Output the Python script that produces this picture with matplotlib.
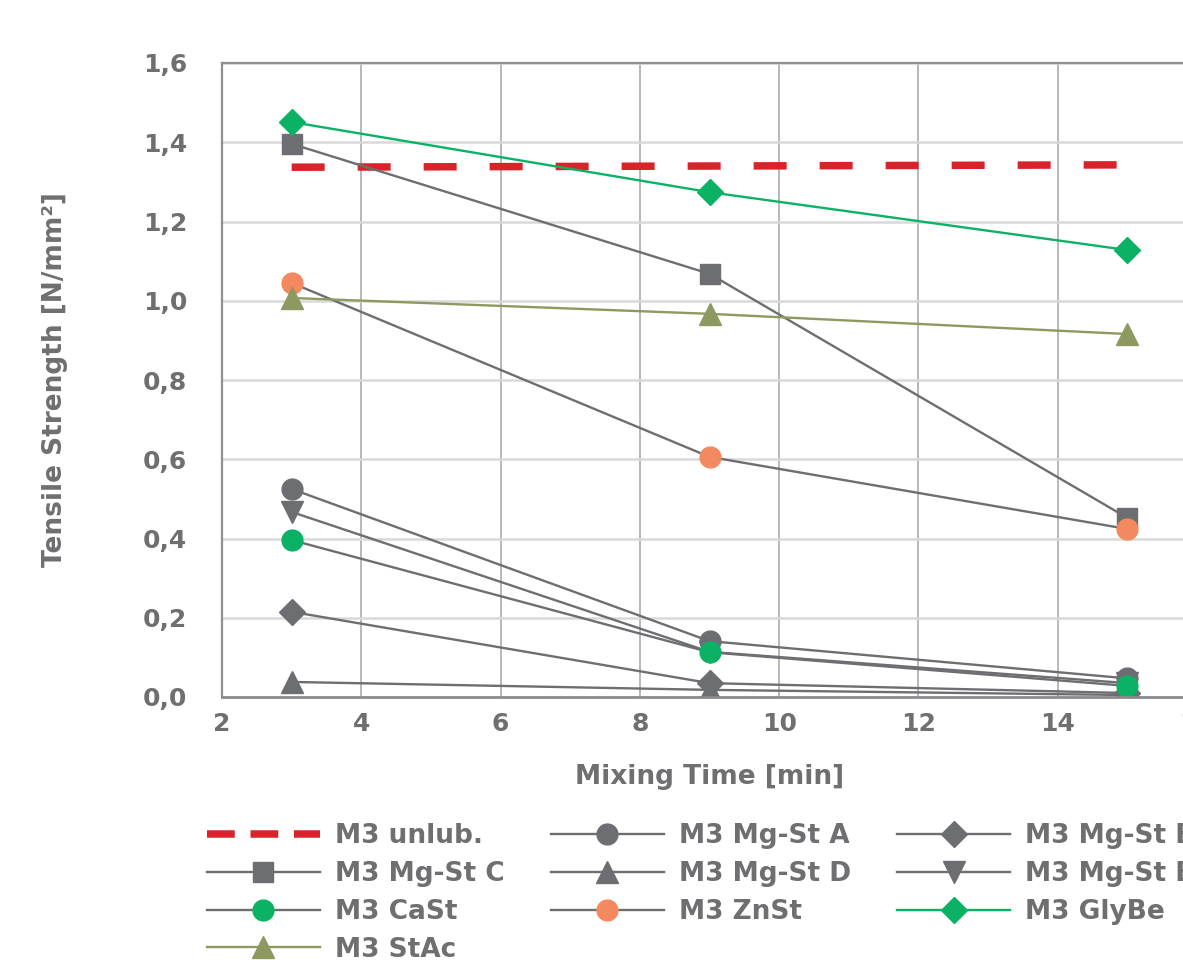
import matplotlib
matplotlib.use("Agg")
import matplotlib.pyplot as plt
from matplotlib.lines import Line2D
from matplotlib.ticker import FuncFormatter

plt.rcParams['font.family'] = ['DejaVu Sans']
plt.rcParams['font.weight'] = 'bold'

# mixing times [min]
mixing_time = [3, 9, 15]

# tensile strength [N/mm²]
unlub = [1.337, 1.340, 1.343]
mgst_a = [0.525, 0.141, 0.047]
mgst_b = [0.215, 0.035, 0.010]
mgst_c = [1.396, 1.068, 0.452]
mgst_d = [0.038, 0.018, 0.005]
mgst_e = [0.467, 0.114, 0.035]
cast = [0.396, 0.113, 0.028]
znst = [1.045, 0.606, 0.424]
glybe = [1.451, 1.274, 1.128]
stac = [1.007, 0.967, 0.916]

x_ticks = [2, 4, 6, 8, 10, 12, 14, 16]
y_ticks = [0.0, 0.2, 0.4, 0.6, 0.8, 1.0, 1.2, 1.4, 1.6]

TXT = '#6f6f72'
GRAY = '#6d6e71'
RED = '#d9232a'
GREEN = '#0bb266'
ORANGE = '#f4895f'
OLIVE = '#8c9a62'

fig = plt.figure(figsize=(11.83, 9.6), dpi=100)
# axes runs past the right edge of the figure, as in the cropped original
ax = fig.add_axes([222 / 1183, 263 / 960, 975 / 1183, 634 / 960])

lw = 1.7
h = {}
h['unlub'], = ax.plot(mixing_time, unlub, color=RED, lw=5.4, dashes=(4.4, 4.4),
                      zorder=2, label='M3 unlub.')
h['a'], = ax.plot(mixing_time, mgst_a, color=GRAY, lw=lw, marker='o', ms=15,
                  label='M3 Mg-St A')
h['b'], = ax.plot(mixing_time, mgst_b, color=GRAY, lw=lw, marker='D', ms=13.5,
                  label='M3 Mg-St B')
h['c'], = ax.plot(mixing_time, mgst_c, color=GRAY, lw=lw, marker='s', ms=13.7,
                  label='M3 Mg-St C')
h['d'], = ax.plot(mixing_time, mgst_d, color=GRAY, lw=lw, marker='^', ms=15.5,
                  label='M3 Mg-St D')
h['e'], = ax.plot(mixing_time, mgst_e, color=GRAY, lw=lw, marker='v', ms=15.5,
                  label='M3 Mg-St E')
h['cast'], = ax.plot(mixing_time, cast, color=GRAY, lw=lw, marker='o', ms=15,
                     mfc=GREEN, mec=GREEN, label='M3 CaSt')
h['znst'], = ax.plot(mixing_time, znst, color=GRAY, lw=lw, marker='o', ms=15,
                     mfc=ORANGE, mec=ORANGE, label='M3 ZnSt')
h['glybe'], = ax.plot(mixing_time, glybe, color=GREEN, lw=lw, marker='D', ms=13.5,
                      label='M3 GlyBe')
h['stac'], = ax.plot(mixing_time, stac, color=OLIVE, lw=lw, marker='^', ms=15.5,
                     label='M3 StAc')

ax.set_xlim(2, 16)
ax.set_ylim(0, 1.6)
ax.set_xticks(x_ticks)
ax.set_yticks(y_ticks)
ax.yaxis.set_major_formatter(FuncFormatter(lambda v, p: f'{v:.1f}'.replace('.', ',')))

ax.xaxis.grid(True, color='#ababab', lw=1.2)
ax.yaxis.grid(True, color='#d9d9d9', lw=1.8)
ax.set_axisbelow(True)
for side in ['left', 'top']:
    ax.spines[side].set_color('#8f8f8f')
    ax.spines[side].set_linewidth(1.6)
ax.spines['right'].set_visible(False)
ax.spines['bottom'].set_color('#8a8a8a')
ax.spines['bottom'].set_linewidth(2)
ax.tick_params(length=0, labelsize=18, labelcolor=TXT)
ax.tick_params(axis='y', pad=25)
ax.tick_params(axis='x', pad=11)

ax.set_xlabel('Mixing Time [min]', fontsize=19, color=TXT, fontweight='bold')
ax.set_ylabel('Tensile Strength [N/mm²]', fontsize=19, color=TXT, fontweight='bold')
ax.xaxis.set_label_coords(0.5, -0.106)
ax.yaxis.set_label_coords(-0.158, 0.5)

# legend proxy for the dashed line (shorter dashes than in the plot)
h['unlub'] = Line2D([], [], color=RED, lw=5.4, dashes=(3.7, 2.1), label='M3 unlub.')

# column-major ordering so the legend reads row by row
order = ['unlub', 'c', 'cast', 'stac', 'a', 'd', 'znst', 'b', 'e', 'glybe']
fig.legend([h[k] for k in order], [h[k].get_label() for k in order],
           loc='upper left', bbox_to_anchor=(207 / 1183, 1 - 823 / 960),
           ncol=3, frameon=False, labelcolor=TXT,
           handlelength=4.28, handletextpad=0.57, columnspacing=1.75,
           labelspacing=0.45, borderaxespad=0, borderpad=0,
           prop={'weight': 'bold', 'size': 19})

fig.savefig('out.png', dpi=100)
